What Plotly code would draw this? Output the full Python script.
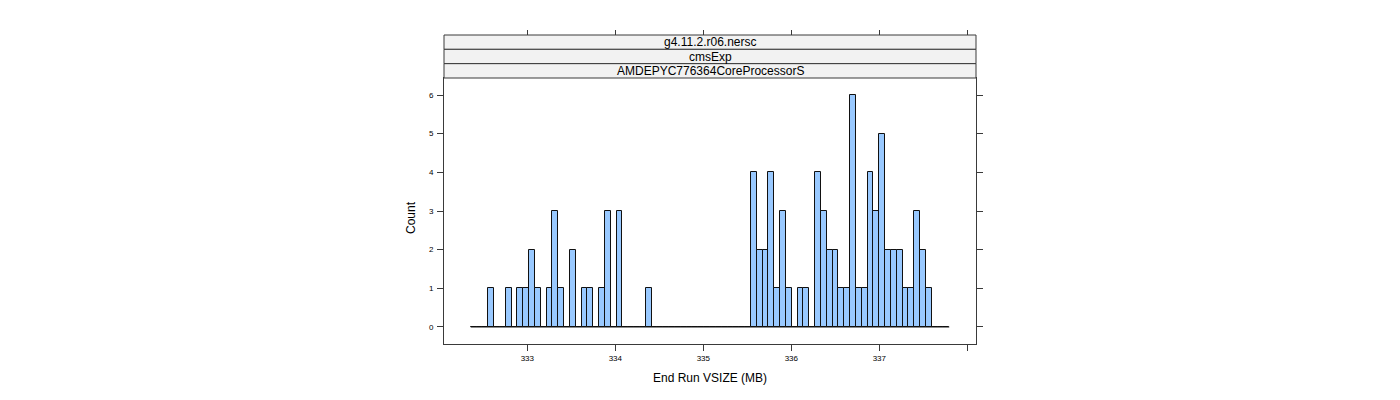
import plotly.graph_objects as go

# ---- data ----
break_first = 332.357   # first histogram break (MB)
break_last = 337.795    # last histogram break (MB)
counts = [0, 0, 0, 1, 0, 0, 1, 0, 1, 1,
          2, 1, 0, 1, 3, 1, 0, 2, 0, 1,
          1, 0, 1, 3, 0, 3, 0, 0, 0, 0,
          1, 0, 0, 0, 0, 0, 0, 0, 0, 0,
          0, 0, 0, 0, 0, 0, 0, 0, 4, 2,
          2, 4, 1, 3, 1, 0, 1, 1, 0, 4,
          3, 2, 2, 1, 1, 6, 1, 1, 4, 3,
          5, 2, 2, 2, 1, 1, 3, 2, 1, 0,
          0, 0]
x_tickvals = [333, 334, 335, 336, 337, 338]
x_ticktext = ["333", "334", "335", "336", "337", ""]
y_tickvals = [0, 1, 2, 3, 4, 5, 6]
strip_labels = ["g4.11.2.r06.nersc", "cmsExp", "AMDEPYC776364CoreProcessorS"]
x_title = "End Run VSIZE (MB)"
y_title = "Count"

nbins = len(counts)
bw = (break_last - break_first) / nbins
centers = [break_first + bw * (i + 0.5) for i in range(nbins)]

FONT = "Liberation Sans, Arial, sans-serif"
LINE = "#3a3a3a"

# page geometry (page pixels); the html body adds an 8px offset
OFF = 8
W, H = 1400, 400
px_left, px_right = 444, 976
px_top, px_panel_top, px_bottom = 35, 78, 344
L = px_left - OFF
R = (W + OFF) - px_right
T = px_top - OFF
B = (H + OFF) - px_bottom
plot_w = px_right - px_left
plot_h = px_bottom - px_top
ydom_top = (px_bottom - px_panel_top) / plot_h


def paper_x(px):
    return (px - px_left) / plot_w


def paper_y(py):
    return (px_bottom - py) / plot_h


fig = go.Figure()
fig.add_trace(go.Bar(
    x=centers, y=counts, width=bw,
    marker=dict(color="#99c9ff", line=dict(color="#111111", width=1)),
    showlegend=False, hoverinfo="x+y",
))
fig.add_trace(go.Scatter(
    x=[break_first, break_last], y=[0, 0], mode="lines",
    line=dict(color="#111111", width=1), showlegend=False, hoverinfo="skip",
))
# invisible trace so the top axis is drawn
fig.add_trace(go.Scatter(
    x=[335], y=[0], xaxis="x2", mode="markers", marker=dict(opacity=0),
    showlegend=False, hoverinfo="skip",
))

xr = [332.053, 338.099]
fig.update_layout(
    width=W, height=H,
    margin=dict(l=L, r=R, t=T, b=B, pad=0),
    paper_bgcolor="white", plot_bgcolor="white",
    font=dict(family=FONT, color="black"),
    bargap=0,
    xaxis=dict(
        range=xr, domain=[0, 1], anchor="y",
        tickmode="array", tickvals=x_tickvals, ticktext=x_ticktext,
        ticks="outside", ticklen=6, tickcolor=LINE, tickwidth=1,
        showline=True, linecolor=LINE, linewidth=1, mirror=True,
        showgrid=False, zeroline=False,
        tickfont=dict(size=8, family=FONT, color="#000000"),
    ),
    xaxis2=dict(
        range=xr, overlaying="x", anchor="free", position=1, side="top",
        tickmode="array", tickvals=x_tickvals, showticklabels=False,
        ticks="outside", ticklen=5, tickcolor=LINE, tickwidth=1,
        showline=False, showgrid=False, zeroline=False,
    ),
    yaxis=dict(
        range=[-0.44, 6.44], domain=[0, ydom_top], anchor="x",
        tickmode="array", tickvals=y_tickvals,
        ticks="outside", ticklen=6, tickcolor=LINE, tickwidth=1,
        ticklabelstandoff=2,
        showline=True, linecolor=LINE, linewidth=1, mirror="ticks",
        showgrid=False, zeroline=False,
        tickfont=dict(size=8, family=FONT, color="#000000"),
    ),
)

# strips
nstrip = len(strip_labels)
sh = (1 - ydom_top) / nstrip
shapes = []
annotations = []
for i, lab in enumerate(strip_labels):
    y1 = 1 - i * sh
    y0 = y1 - sh
    shapes.append(dict(type="rect", xref="paper", yref="paper",
                       x0=0, x1=1, y0=y0, y1=y1,
                       fillcolor="#f2f2f2", line=dict(color=LINE, width=1)))
    annotations.append(dict(text=lab, xref="paper", yref="paper",
                            x=0.5, y=(y0 + y1) / 2, showarrow=False,
                            xanchor="center", yanchor="middle",
                            font=dict(size=12, family=FONT, color="black")))

annotations.append(dict(text=x_title, xref="paper", yref="paper",
                        x=paper_x(710), y=paper_y(378),
                        showarrow=False, xanchor="center", yanchor="middle",
                        font=dict(size=12, family=FONT, color="black")))
annotations.append(dict(text=y_title, xref="paper", yref="paper",
                        x=paper_x(411), y=paper_y(218),
                        showarrow=False, xanchor="center", yanchor="middle",
                        textangle=-90,
                        font=dict(size=12, family=FONT, color="black")))
fig.update_layout(shapes=shapes, annotations=annotations)

fig.write_html("out.html")
